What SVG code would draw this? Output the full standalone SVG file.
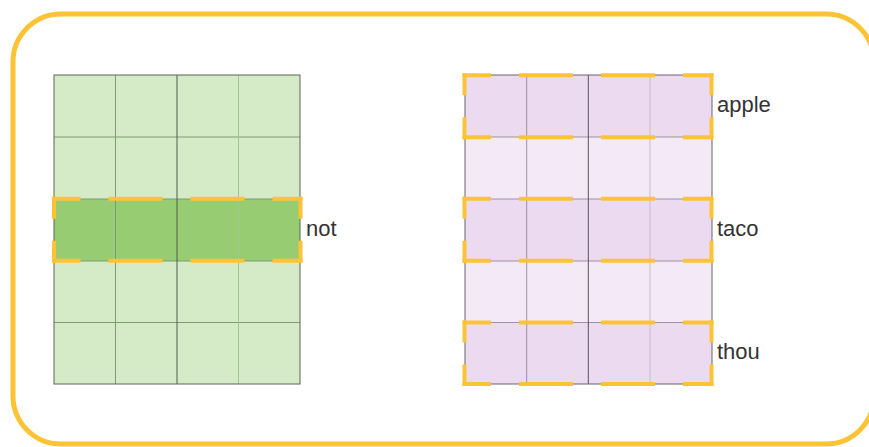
<svg xmlns="http://www.w3.org/2000/svg" width="869" height="447" viewBox="0 0 869 447">
<style>
.lbl{font-family:"Liberation Sans",Arial,sans-serif;font-size:22px;fill:#333}
.hl{stroke:#fcc337;stroke-width:4;fill:none}
.h{stroke-dasharray:54 28;stroke-dashoffset:25.5}
.v{stroke-dasharray:22 22}
</style>
<rect x="13" y="14" width="861" height="430" rx="48" ry="48" fill="#fff" stroke="#fcc337" stroke-width="5"/>
<g id="left-grid">
<rect x="54" y="75" width="246" height="309" fill="#d5ebc8"/>
<rect x="54" y="199" width="246" height="62" fill="#97cc72"/>
<g stroke="#7f9a70" stroke-width="1">
<line x1="115.5" y1="75" x2="115.5" y2="384"/>
<line x1="54" y1="137" x2="300" y2="137"/>
<line x1="54" y1="199" x2="300" y2="199"/>
<line x1="54" y1="261" x2="300" y2="261"/>
<line x1="54" y1="322.5" x2="300" y2="322.5"/>
</g>
<line x1="238.5" y1="75" x2="238.5" y2="384" stroke="#a5c496" stroke-width="1"/>
<line x1="177" y1="75" x2="177" y2="384" stroke="#4f5f48" stroke-width="1"/>
<rect x="54" y="75" width="246" height="309" fill="none" stroke="#5a6656" stroke-width="1"/>
</g>
<g id="right-grid">
<rect x="465" y="75" width="247" height="309" fill="#f4e9f7"/>
<rect x="465" y="75" width="247" height="62" fill="#ecdaf0"/>
<rect x="465" y="199" width="247" height="62" fill="#ecdaf0"/>
<rect x="465" y="322.5" width="247" height="61.5" fill="#ecdaf0"/>
<g stroke="#9c92a0" stroke-width="1">
<line x1="526.7" y1="75" x2="526.7" y2="384"/>
<line x1="465" y1="137" x2="712" y2="137"/>
<line x1="465" y1="199" x2="712" y2="199"/>
<line x1="465" y1="261" x2="712" y2="261"/>
<line x1="465" y1="322.5" x2="712" y2="322.5"/>
</g>
<line x1="650" y1="75" x2="650" y2="384" stroke="#cbbccf" stroke-width="1"/>
<line x1="588.3" y1="75" x2="588.3" y2="384" stroke="#555" stroke-width="1"/>
<rect x="465" y="75" width="247" height="309" fill="none" stroke="#666" stroke-width="1"/>
</g>
<g id="highlights">
<g id="hl-not">
<line class="hl h" x1="52" y1="198.7" x2="302.5" y2="198.7"/>
<line class="hl h" x1="52" y1="260.7" x2="302.5" y2="260.7"/>
<line class="hl v" x1="54" y1="196.7" x2="54" y2="262.7"/>
<line class="hl v" x1="300.5" y1="196.7" x2="300.5" y2="262.7"/>
</g>
<g id="hl-apple">
<line class="hl h" x1="462.5" y1="75.3" x2="713.5" y2="75.3"/>
<line class="hl h" x1="462.5" y1="137.3" x2="713.5" y2="137.3"/>
<line class="hl v" x1="464.5" y1="73.3" x2="464.5" y2="139.3"/>
<line class="hl v" x1="711.5" y1="73.3" x2="711.5" y2="139.3"/>
</g>
<g id="hl-taco">
<line class="hl h" x1="462.5" y1="198.7" x2="713.5" y2="198.7"/>
<line class="hl h" x1="462.5" y1="260.7" x2="713.5" y2="260.7"/>
<line class="hl v" x1="464.5" y1="196.7" x2="464.5" y2="262.7"/>
<line class="hl v" x1="711.5" y1="196.7" x2="711.5" y2="262.7"/>
</g>
<g id="hl-thou">
<line class="hl h" x1="462.5" y1="322.5" x2="713.5" y2="322.5"/>
<line class="hl h" x1="462.5" y1="384" x2="713.5" y2="384"/>
<line class="hl v" x1="464.5" y1="320.5" x2="464.5" y2="386"/>
<line class="hl v" x1="711.5" y1="320.5" x2="711.5" y2="386"/>
</g>
</g>
<g id="labels">
<text class="lbl" x="306" y="236">not</text>
<text class="lbl" x="717" y="112">apple</text>
<text class="lbl" x="717" y="236">taco</text>
<text class="lbl" x="717" y="359">thou</text>
</g>
</svg>
